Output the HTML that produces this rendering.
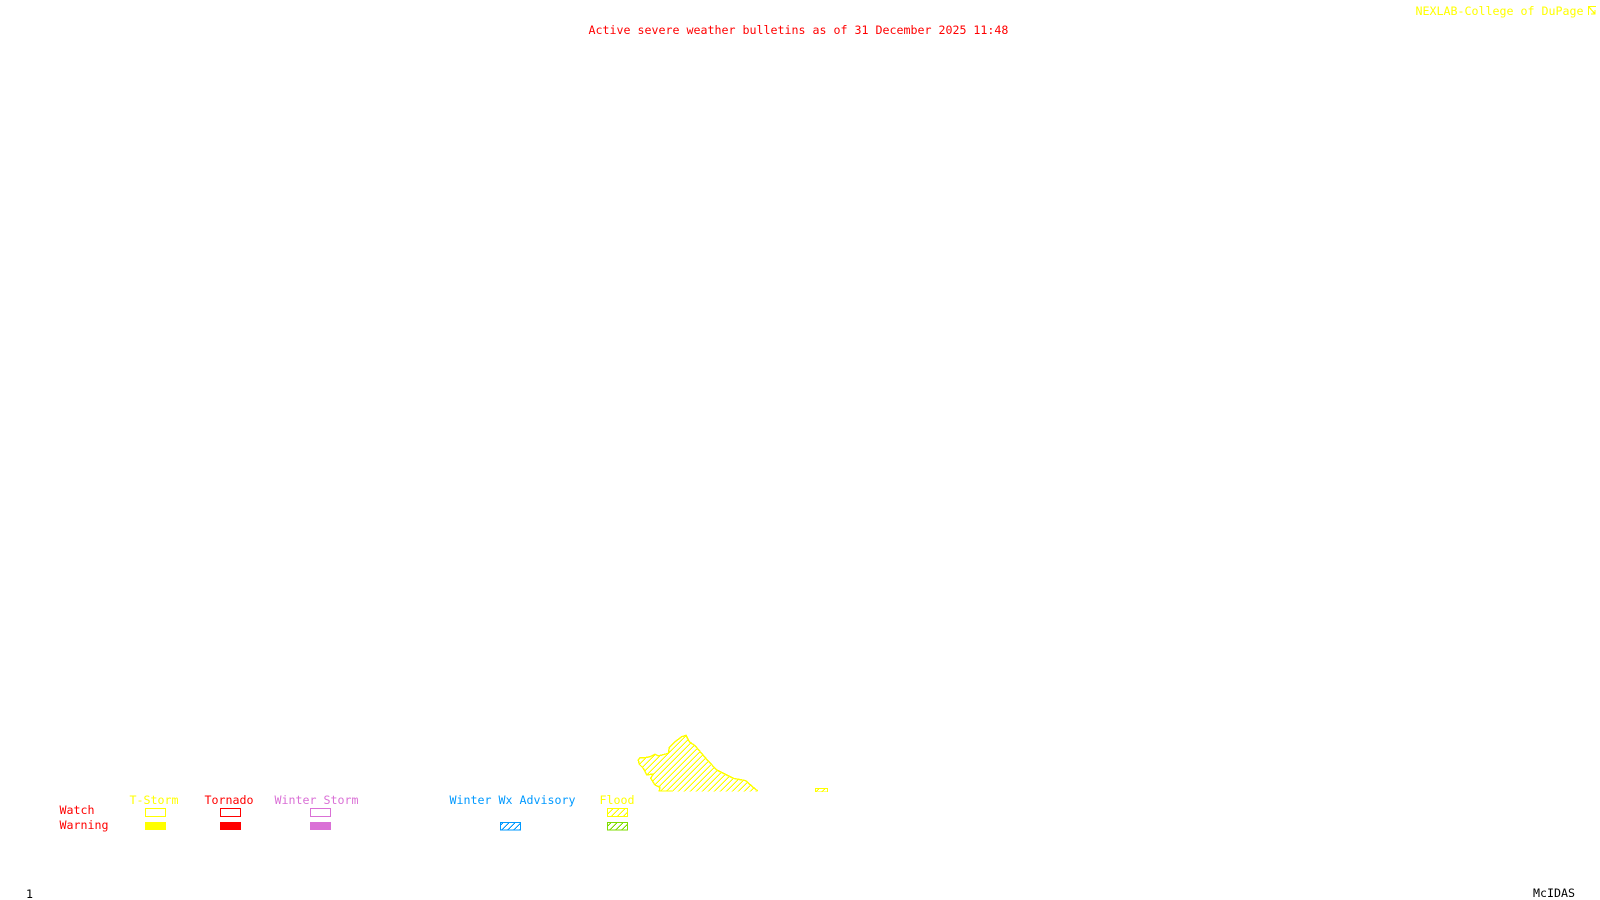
<!DOCTYPE html>
<html>
<head>
<meta charset="utf-8">
<style>
html,body{margin:0;padding:0;background:#fff;width:1600px;height:900px;overflow:hidden}
svg{display:block}
text{font-family:"DejaVu Sans Mono","Liberation Mono",monospace;font-size:11.63px;white-space:pre}
</style>
</head>
<body>
<svg width="1600" height="900" viewBox="0 0 1600 900" xmlns="http://www.w3.org/2000/svg">
<defs>
<pattern id="hy" patternUnits="userSpaceOnUse" width="6" height="6">
<path d="M4.5 0h1.5v1h-1.5zM3.5 1h1.5v1h-1.5zM2.5 2h1.5v1h-1.5zM1.5 3h1.5v1h-1.5zM.5 4h1.5v1h-1.5zM0 5h1v1h-1zM5.5 5h.5v1h-.5z" fill="#ffff00"/>
</pattern>
<pattern id="hb" patternUnits="userSpaceOnUse" width="6" height="6">
<path d="M4.5 0h1.5v1h-1.5zM3.5 1h1.5v1h-1.5zM2.5 2h1.5v1h-1.5zM1.5 3h1.5v1h-1.5zM.5 4h1.5v1h-1.5zM0 5h1v1h-1zM5.5 5h.5v1h-.5z" fill="#0099ff"/>
</pattern>
<pattern id="hg" patternUnits="userSpaceOnUse" width="6" height="6">
<path d="M4.5 0h1.5v1h-1.5zM3.5 1h1.5v1h-1.5zM2.5 2h1.5v1h-1.5zM1.5 3h1.5v1h-1.5zM.5 4h1.5v1h-1.5zM0 5h1v1h-1zM5.5 5h.5v1h-.5z" fill="#7fdd00"/>
</pattern>
</defs>

<text x="588.5" y="34" fill="#ff0000">Active severe weather bulletins as of 31 December 2025 11:48</text>
<text x="1415.5" y="15" fill="#ffff00">NEXLAB-College of DuPage</text>
<path d="M1596 6.5H1588.5V15M1589 7L1595 14M1591 14h4v-4" fill="none" stroke="#ffff00" stroke-width="1.2" shape-rendering="crispEdges"/>

<polygon points="638.3,760 640,757.7 645,757.7 650,756.7 655,754.3 658.3,756 668.3,753.3 669.3,747.3 675,741.7 681.7,736.7 686,735.3 689.3,741.7 695,745.7 699.3,750.7 706.7,759.3 716.7,770 723.3,773.3 733.3,778.3 745.7,780.7 751.7,786 757.7,791.5 659.3,791.5 660,787.3 655,785 650.7,778.3 653.3,774 646.7,775 643.3,768.3 639.3,764.3" fill="url(#hy)"/>
<polyline points="757.7,791 751.7,786 745.7,780.7 733.3,778.3 723.3,773.3 716.7,770 706.7,759.3 699.3,750.7 695,745.7 689.3,741.7 686,735.3 681.7,736.7 675,741.7 669.3,747.3 668.3,753.3 658.3,756 655,754.3 650,756.7 645,757.7 640,757.7 638.3,760 639.3,764.3 643.3,768.3 646.7,775 653.3,774 650.7,778.3 655,785 660,787.3 659.3,791 672,791" fill="none" stroke="#ffff00" stroke-width="1.4" shape-rendering="crispEdges"/>
<rect x="815.5" y="788.5" width="12" height="3.5" fill="url(#hy)" stroke="#ffff00" stroke-width="1" shape-rendering="crispEdges"/>
<rect x="810" y="792" width="25" height="3" fill="#fff"/>

<text x="129.5" y="804" fill="#ffff00">T-Storm</text>
<text x="204.5" y="804" fill="#ff0000">Tornado</text>
<text x="274.5" y="804" fill="#da70d6">Winter Storm</text>
<text x="449.5" y="804" fill="#0099ff">Winter Wx Advisory</text>
<text x="599.5" y="804" fill="#ffff00">Flood</text>
<text x="59.5" y="814" fill="#ff0000">Watch</text>
<text x="59.5" y="829" fill="#ff0000">Warning</text>

<g shape-rendering="crispEdges" stroke-width="1">
<rect x="145.5" y="808.5" width="20" height="8" fill="none" stroke="#ffff00"/>
<rect x="145" y="822" width="21" height="8" fill="#ffff00"/>
<rect x="220.5" y="808.5" width="20" height="8" fill="none" stroke="#ff0000"/>
<rect x="220" y="822" width="21" height="8" fill="#ff0000"/>
<rect x="310.5" y="808.5" width="20" height="8" fill="none" stroke="#da70d6"/>
<rect x="310" y="822" width="21" height="8" fill="#da70d6"/>
<rect x="500.5" y="822.5" width="20" height="7.5" fill="url(#hb)" stroke="#0099ff"/>
<rect x="607.5" y="808.5" width="20" height="8" fill="url(#hy)" stroke="#ffff00"/>
<rect x="607.5" y="822.5" width="20" height="7.5" fill="url(#hg)" stroke="#7fdd00"/>
</g>

<text x="26" y="898" fill="#000000">1</text>
<text x="1533" y="897" fill="#000000">McIDAS</text>
</svg>
</body>
</html>
